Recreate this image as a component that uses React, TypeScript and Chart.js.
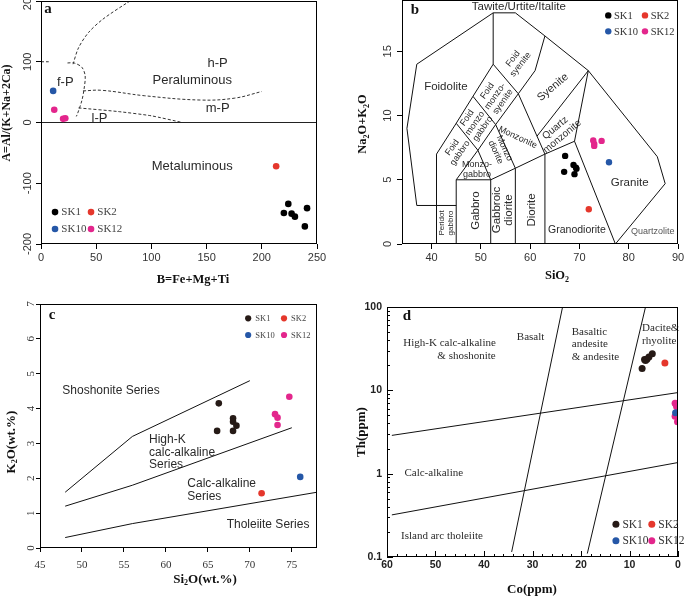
import React, { useEffect, useRef } from 'react';
import { Chart, registerables } from 'chart.js';
Chart.register(...registerables);

const SANS = '"Liberation Sans", Arial, sans-serif';
const SERIF = '"Liberation Serif", "Times New Roman", serif';

const RED = '#e5372c';
const BLUE = '#2557a7';
const MAG = '#e3268c';
const BLK = '#000000';
const DARK = '#261a16';

// ---------------- Panel a data ----------------
const aTicksX = [0, 50, 100, 150, 200, 250];
const aTicksY = [-200, -100, 0, 100, 200];
const aSK1x = [224, 220, 227, 230, 241, 239];
const aSK1y = [-134, -149, -150, -155, -141, -171];
const aSK2x = [213];
const aSK2y = [-72];
const aSK10x = [11];
const aSK10y = [52];
const aSK12x = [12, 20, 22];
const aSK12y = [21, 6, 7];
const aZeroX = [0, 250];
const aZeroY = [0, 0];
const aFPx = [0, 7];
const aFPy = [100, 100];
const aFPbX = [24, 30, 37, 40, 39, 37, 33, 32];
const aFPbY = [98, 98, 91, 77, 55, 36, 14, 10];
const aHPbX = [29, 34, 43, 56, 78, 90];
const aHPbY = [96, 123, 148, 170, 197, 210];
const aMPbX = [38, 55, 94, 144, 175, 200];
const aMPbY = [52, 53, 44, 37, 40, 51];
const aLPbX = [34, 70, 100, 128];
const aLPbY = [24, 18, 11, 0];

// ---------------- Panel b data ----------------
const bTicksX = [40, 50, 60, 70, 80, 90];
const bTicksY = [0, 5, 10, 15];
const bSK1x = [67.1, 68.8, 69.3, 69.4, 66.9, 69.0];
const bSK1y = [6.86, 6.16, 5.95, 5.85, 5.62, 5.44];
const bSK2x = [71.9];
const bSK2y = [2.71];
const bSK10x = [76.0];
const bSK10y = [6.37];
const bSK12x = [72.8, 73.0, 73.0, 74.5];
const bSK12y = [8.06, 7.8, 7.64, 8.03];
const bL1x = [41, 37, 35, 37, 52.5, 57, 63, 71.8, 85.8, 87.4, 77.3];
const bL1y = [3, 3, 9, 14, 18, 18, 16.2, 13.5, 6.8, 4.7, 0];
const bL2x = [41, 41, 45, 48.4, 52.5, 52.5];
const bL2y = [0, 7, 9.4, 11.5, 14, 18];
const bL3x = [41, 45];
const bL3y = [3, 3];
const bL4x = [45, 45, 49.4, 45];
const bL4y = [0, 5, 7.3, 9.4];
const bL5x = [45, 52, 49.4, 53, 48.4];
const bL5y = [5, 5, 7.3, 9.3, 11.5];
const bL6x = [52, 52, 57, 63, 69, 71.8];
const bL6y = [0, 5, 5.9, 7, 8, 13.5];
const bL7x = [57, 57, 53, 57.6, 52.5];
const bL7y = [0, 5.9, 9.3, 11.7, 14];
const bL8x = [63, 63, 57.6, 61, 63];
const bL8y = [0, 7, 11.7, 13.5, 16.2];
const bL9x = [69, 77.3];
const bL9y = [8, 0];
const bL10x = [61.4, 71.8];
const bL10y = [8.4, 13.5];

// ---------------- Panel c data ----------------
const cTicksX = [45, 50, 55, 60, 65, 70, 75];
const cTicksY = [0, 1, 2, 3, 4, 5, 6, 7];
const cSK1x = [66.3, 68.0, 68.0, 68.4, 68.0, 66.1];
const cSK1y = [4.15, 3.72, 3.62, 3.51, 3.36, 3.36];
const cSK2x = [71.4];
const cSK2y = [1.57];
const cSK10x = [76.0];
const cSK10y = [2.04];
const cSK12x = [74.7, 73.0, 73.3, 73.3];
const cSK12y = [4.34, 3.84, 3.74, 3.53];
const cShoX = [48, 56, 70];
const cShoY = [1.6, 3.2, 4.8];
const cHKx = [48, 56, 75];
const cHKy = [1.2, 1.8, 3.45];
const cCAx = [48, 56, 78];
const cCAy = [0.3, 0.7, 1.6];

// ---------------- Panel d data ----------------
const dTicksX = [60, 50, 40, 30, 20, 10, 0];
const dTicksY = [0.1, 1, 10, 100];
const dTickLabelsY = ['0.1', '1', '10', '100'];
const dSK1x = [7.4, 6.9, 6.4, 6.0, 5.3, 6.7];
const dSK1y = [18.3, 23.4, 23.6, 25.1, 27.5, 22.8];
const dSK2x = [2.7];
const dSK2y = [21.3];
const dSK10x = [0.5];
const dSK10y = [5.4];
const dSK12x = [0.6, 0.3, 0.6, 0.1];
const dSK12y = [7.0, 6.4, 4.9, 4.2];
const dUpX = [59, 0];
const dUpY = [2.88, 9.4];
const dLoX = [59, 0];
const dLoY = [0.32, 1.36];
const dS1x = [34.3, 23.8];
const dS1y = [0.115, 100];
const dS2x = [18.7, 6.7];
const dS2y = [0.11, 100];

const zip = (xs: number[], ys: number[]) => xs.map((x, i) => ({ x, y: ys[i] }));

function pts(xs: number[], ys: number[], color: string, r: number) {
  return {
    type: 'scatter', data: zip(xs, ys), backgroundColor: color, borderColor: color,
    borderWidth: 0, pointRadius: r, pointHoverRadius: r, order: 0,
  };
}
function line(xs: number[], ys: number[], opts: any = {}) {
  return {
    type: 'line', data: zip(xs, ys), borderColor: '#111', borderWidth: 1, pointRadius: 0,
    pointHoverRadius: 0, fill: false, tension: 0, order: 1, ...opts,
  };
}

type Seg = { t: string; sub?: boolean };

function drawRich(ctx: any, segs: Seg[], x: number, y: number, size: number, rot: number) {
  ctx.save();
  ctx.translate(x, y);
  if (rot) ctx.rotate((rot * Math.PI) / 180);
  const fMain = `bold ${size}px ${SERIF}`;
  const fSub = `bold ${Math.round(size * 0.62)}px ${SERIF}`;
  let w = 0;
  for (const s of segs) {
    ctx.font = s.sub ? fSub : fMain;
    w += ctx.measureText(s.t).width;
  }
  let cx = -w / 2;
  ctx.textAlign = 'left';
  ctx.textBaseline = 'alphabetic';
  ctx.fillStyle = '#111';
  for (const s of segs) {
    ctx.font = s.sub ? fSub : fMain;
    ctx.fillText(s.t, cx, s.sub ? size * 0.55 : size * 0.35);
    cx += ctx.measureText(s.t).width;
  }
  ctx.restore();
}

function drawText(ctx: any, it: any, px: number, py: number) {
  ctx.save();
  ctx.translate(px, py);
  if (it.rot) ctx.rotate((it.rot * Math.PI) / 180);
  ctx.font = it.font;
  ctx.fillStyle = it.color || '#2a2a2a';
  ctx.textAlign = it.align || 'center';
  ctx.textBaseline = 'middle';
  const lines = Array.isArray(it.t) ? it.t : [it.t];
  const lh = it.lh || 11;
  lines.forEach((ln: string, i: number) => ctx.fillText(ln, 0, (i - (lines.length - 1) / 2) * lh));
  ctx.restore();
}

function decoPlugin(s: any) {
  return {
    id: 'deco',
    beforeDatasetsDraw(chart: any) {
      const ctx = chart.ctx;
      const xs = chart.scales.x;
      const ys = chart.scales.y;
      for (const it of s.texts) drawText(ctx, it, xs.getPixelForValue(it.x), ys.getPixelForValue(it.y));
    },
    afterDraw(chart: any) {
      const ctx = chart.ctx;
      const xs = chart.scales.x;
      const ys = chart.scales.y;
      const { left, top, right, bottom } = chart.chartArea;
      ctx.save();
      ctx.strokeStyle = '#000';
      ctx.lineWidth = 1;
      ctx.strokeRect(Math.floor(left) + 0.5, Math.floor(top) + 0.5, Math.round(right - left) - 1, Math.round(bottom - top) - 1);
      // inward ticks (panel d)
      if (s.inTicks) {
        ctx.beginPath();
        for (const v of s.inTicks.xMajor) {
          const p = Math.round(xs.getPixelForValue(v)) + 0.5;
          ctx.moveTo(p, bottom); ctx.lineTo(p, bottom - 6);
        }
        for (const v of s.inTicks.xMinor) {
          const p = Math.round(xs.getPixelForValue(v)) + 0.5;
          ctx.moveTo(p, bottom); ctx.lineTo(p, bottom - 3);
        }
        for (const v of s.inTicks.yMajor) {
          const p = Math.round(ys.getPixelForValue(v)) + 0.5;
          ctx.moveTo(left, p); ctx.lineTo(left + 6, p);
        }
        for (const v of s.inTicks.yMinor) {
          const p = Math.round(ys.getPixelForValue(v)) + 0.5;
          ctx.moveTo(left, p); ctx.lineTo(left + 3, p);
        }
        ctx.stroke();
      }
      // tick labels
      ctx.font = s.tickFont;
      ctx.fillStyle = s.tickColor;
      ctx.textBaseline = 'middle';
      ctx.textAlign = 'center';
      s.x.ticks.forEach((v: number, i: number) => {
        const lab = s.x.labels ? s.x.labels[i] : String(v);
        ctx.fillText(lab, xs.getPixelForValue(v), s.xLabelY - s.cy);
      });
      s.y.ticks.forEach((v: number, i: number) => {
        const lab = s.y.labels ? s.y.labels[i] : String(v);
        const py = ys.getPixelForValue(v);
        if (s.yLabelRot) {
          ctx.save();
          ctx.translate(s.yLabelX - s.cx, py);
          ctx.rotate(-Math.PI / 2);
          ctx.textAlign = 'center';
          ctx.fillText(lab, 0, 0);
          ctx.restore();
        } else {
          ctx.textAlign = 'right';
          ctx.fillText(lab, s.yLabelX - s.cx, py);
        }
      });
      // titles
      drawRich(ctx, s.xTitle.segs, s.xTitle.x - s.cx, s.xTitle.y - s.cy, s.xTitle.size, 0);
      drawRich(ctx, s.yTitle.segs, s.yTitle.x - s.cx, s.yTitle.y - s.cy, s.yTitle.size, -90);
      // panel letter
      ctx.font = `bold 15px ${SERIF}`;
      ctx.fillStyle = '#111';
      ctx.textAlign = 'center';
      ctx.textBaseline = 'middle';
      ctx.fillText(s.letter.t, s.letter.x - s.cx, s.letter.y - s.cy);
      // legend
      const lg = s.legend;
      for (const it of lg.items) {
        const px = xs.getPixelForValue(it.x);
        const py = ys.getPixelForValue(it.y);
        ctx.beginPath();
        ctx.fillStyle = it.color;
        ctx.arc(px, py, lg.r, 0, Math.PI * 2);
        ctx.fill();
        ctx.font = lg.font;
        ctx.fillStyle = lg.color;
        ctx.textAlign = 'left';
        ctx.textBaseline = 'middle';
        ctx.fillText(it.label, px + lg.r + lg.gap, py + 0.5);
      }
      ctx.restore();
    },
  };
}

function buildChart(canvas: HTMLCanvasElement, s: any) {
  const [l, t, r, b] = s.area;
  const out = !s.inTicks;
  const setTicks = (vals: number[]) => (sc: any) => {
    sc.ticks = vals.map((v) => ({ value: v }));
  };
  const axis = (ax: any, isX: boolean) => ({
    type: ax.type,
    min: ax.min,
    max: ax.max,
    reverse: !!ax.reverse,
    bounds: 'data',
    afterFit: (sc: any) => {
      if (isX) sc.height = s.cy + s.ch - b;
      else sc.width = l - s.cx;
    },
    afterBuildTicks: setTicks(ax.ticks),
    ticks: { display: false },
    grid: { drawOnChartArea: false, drawTicks: out, tickLength: s.tickLen || 5, color: '#000', lineWidth: 1 },
    border: { display: false },
  });
  return new Chart(canvas, {
    type: 'scatter',
    data: { datasets: s.datasets },
    options: {
      animation: false,
      responsive: false,
      maintainAspectRatio: false,
      devicePixelRatio: 1,
      events: [],
      layout: { autoPadding: false, padding: { left: 0, top: t - s.cy, right: s.cx + s.cw - r, bottom: 0 } },
      plugins: { legend: { display: false }, tooltip: { enabled: false } },
      scales: { x: axis(s.x, true), y: axis(s.y, false) },
    },
    plugins: [decoPlugin(s)],
  } as any);
}

const legendItems = (x1: number, x2: number, y1: number, y2: number, c1: string) => [
  { label: 'SK1', color: c1, x: x1, y: y1 },
  { label: 'SK2', color: RED, x: x2, y: y1 },
  { label: 'SK10', color: BLUE, x: x1, y: y2 },
  { label: 'SK12', color: MAG, x: x2, y: y2 },
];

const dash = [3, 2];
const f13 = `13px ${SANS}`;
const f11 = `11px ${SANS}`;
const f9 = `9px ${SANS}`;

const specA = {
  id: 'a', cx: 0, cy: 0, cw: 340, ch: 290, area: [41, 1, 317, 244],
  x: { type: 'linear', min: 0, max: 250, ticks: aTicksX },
  y: { type: 'linear', min: -200, max: 200, ticks: aTicksY },
  tickFont: `11px ${SANS}`, tickColor: '#333', xLabelY: 258, yLabelX: 28, yLabelRot: true, tickLen: 5,
  datasets: [
    line(aZeroX, aZeroY, { borderColor: '#222' }),
    line(aFPx, aFPy, { borderDash: dash, borderColor: '#333' }),
    line(aFPbX, aFPbY, { borderDash: dash, borderColor: '#333', tension: 0.3 }),
    line(aHPbX, aHPbY, { borderDash: dash, borderColor: '#333', tension: 0.3 }),
    line(aMPbX, aMPbY, { borderDash: dash, borderColor: '#333', tension: 0.4 }),
    line(aLPbX, aLPbY, { borderDash: dash, borderColor: '#333', tension: 0.2 }),
    pts(aSK1x, aSK1y, BLK, 3.3),
    pts(aSK2x, aSK2y, RED, 3.3),
    pts(aSK10x, aSK10y, BLUE, 3.3),
    pts(aSK12x, aSK12y, MAG, 3.3),
  ],
  texts: [
    { t: 'h-P', x: 160, y: 97, font: f13 },
    { t: 'Peraluminous', x: 137, y: 69, font: f13 },
    { t: 'm-P', x: 160, y: 23, font: f13 },
    { t: 'f-P', x: 22, y: 66, font: f13 },
    { t: 'l-P', x: 53, y: 6, font: f13 },
    { t: 'Metaluminous', x: 137, y: -72, font: f13 },
  ],
  legend: { items: legendItems(12.7, 45.3, -147.5, -175.4, BLK), font: `11px ${SERIF}`, color: '#444', r: 3.3, gap: 3 },
  letter: { t: 'a', x: 48, y: 9 },
  xTitle: { segs: [{ t: 'B=Fe+Mg+Ti' }], x: 193, y: 279, size: 12.5 },
  yTitle: { segs: [{ t: 'A=Al/(K+Na+2Ca)' }], x: 6, y: 113, size: 12 },
};

const specB = {
  id: 'b', cx: 340, cy: 0, cw: 345, ch: 290, area: [402, 0, 678, 244],
  x: { type: 'linear', min: 34, max: 90, ticks: bTicksX },
  y: { type: 'linear', min: 0, max: 19, ticks: bTicksY },
  tickFont: `11px ${SANS}`, tickColor: '#333', xLabelY: 258, yLabelX: 388, yLabelRot: true, tickLen: 5,
  datasets: [
    line(bL1x, bL1y), line(bL2x, bL2y), line(bL3x, bL3y), line(bL4x, bL4y), line(bL5x, bL5y),
    line(bL6x, bL6y), line(bL7x, bL7y), line(bL8x, bL8y), line(bL9x, bL9y), line(bL10x, bL10y),
    pts(bSK1x, bSK1y, BLK, 3.2),
    pts(bSK2x, bSK2y, RED, 3.2),
    pts(bSK10x, bSK10y, BLUE, 3.2),
    pts(bSK12x, bSK12y, MAG, 3.2),
  ],
  texts: [
    { t: 'Tawite/Urtite/Italite', x: 57.7, y: 18.45, font: `11.5px ${SANS}` },
    { t: 'Foidolite', x: 42.9, y: 12.2, font: `11.5px ${SANS}` },
    { t: 'Syenite', x: 64.6, y: 12.2, font: `11px ${SANS}`, rot: -40 },
    { t: 'Granite', x: 80.2, y: 4.76, font: `11.5px ${SANS}` },
    { t: 'Granodiorite', x: 69.5, y: 1.1, font: `10.5px ${SANS}` },
    { t: 'Quartzolite', x: 84.9, y: 0.94, font: `9px ${SANS}`, color: '#555' },
    { t: 'Gabbro', x: 49, y: 2.6, font: `11.5px ${SANS}`, rot: -90 },
    { t: ['Gabbroic', 'diorite'], x: 54.5, y: 2.65, font: `11.5px ${SANS}`, rot: -90, lh: 12 },
    { t: 'Diorite', x: 60.4, y: 2.65, font: `11.5px ${SANS}`, rot: -90 },
    { t: ['Peridot', 'gabbro'], x: 42.9, y: 1.64, font: `8px ${SANS}`, rot: -90, lh: 9 },
    { t: 'Monzonite', x: 57.5, y: 8.3, font: f9, rot: 25 },
    { t: ['Quartz', 'monzonite'], x: 65.8, y: 8.7, font: `10px ${SANS}`, rot: -40, lh: 11 },
    { t: ['Foid', 'syenite'], x: 57.3, y: 14.2, font: f9, rot: -52, lh: 9.5 },
    { t: ['Foid', 'monzo-', 'syenite'], x: 52.9, y: 11.5, font: f9, rot: -55, lh: 9.5 },
    { t: ['Foid', 'monzo', 'gabbro'], x: 48.8, y: 9.4, font: f9, rot: -55, lh: 9.5 },
    { t: ['Foid', 'gabbro'], x: 45.0, y: 7.3, font: f9, rot: -55, lh: 9.5 },
    { t: ['Monzo', 'diorite'], x: 53.9, y: 7.3, font: f9, rot: 65, lh: 9.5 },
    { t: ['Monzo-', 'gabbro'], x: 49.2, y: 5.8, font: f9, lh: 9.5 },
  ],
  legend: { items: legendItems(75.85, 83.3, 17.8, 16.56, BLK), font: `10.5px ${SERIF}`, color: '#333', r: 3.2, gap: 2.5 },
  letter: { t: 'b', x: 415, y: 10 },
  xTitle: { segs: [{ t: 'SiO' }, { t: '2', sub: true }], x: 557, y: 275, size: 12.5 },
  yTitle: { segs: [{ t: 'Na' }, { t: '2', sub: true }, { t: 'O+K' }, { t: '2', sub: true }, { t: 'O' }], x: 362, y: 124, size: 12.5 },
};

const specC = {
  id: 'c', cx: 0, cy: 290, cw: 340, ch: 306, area: [40, 304, 317, 548],
  x: { type: 'linear', min: 45, max: 78, ticks: cTicksX },
  y: { type: 'linear', min: 0, max: 7, ticks: cTicksY },
  tickFont: `11px ${SERIF}`, tickColor: '#333', xLabelY: 565, yLabelX: 31.5, yLabelRot: true, tickLen: 4,
  datasets: [
    line(cShoX, cShoY), line(cHKx, cHKy), line(cCAx, cCAy),
    pts(cSK1x, cSK1y, DARK, 3.3),
    pts(cSK2x, cSK2y, RED, 3.3),
    pts(cSK10x, cSK10y, BLUE, 3.3),
    pts(cSK12x, cSK12y, MAG, 3.3),
  ],
  texts: [
    { t: 'Shoshonite Series', x: 53.46, y: 4.5, font: `12px ${SANS}` },
    { t: 'High-K', x: 57.99, y: 3.1, font: `12px ${SANS}`, align: 'left' },
    { t: 'calc-alkaline', x: 57.99, y: 2.73, font: `12px ${SANS}`, align: 'left' },
    { t: 'Series', x: 57.99, y: 2.38, font: `12px ${SANS}`, align: 'left' },
    { t: 'Calc-alkaline', x: 62.55, y: 1.84, font: `12px ${SANS}`, align: 'left' },
    { t: 'Series', x: 62.55, y: 1.47, font: `12px ${SANS}`, align: 'left' },
    { t: 'Tholeiite Series', x: 67.24, y: 0.66, font: `12px ${SANS}`, align: 'left' },
  ],
  legend: { items: legendItems(69.8, 74.07, 6.59, 6.11, DARK), font: `8.5px ${SERIF}`, color: '#444', r: 3.1, gap: 4 },
  letter: { t: 'c', x: 52, y: 315 },
  xTitle: { segs: [{ t: 'Si' }, { t: '2', sub: true }, { t: 'O(wt.%)' }], x: 205, y: 578, size: 13 },
  yTitle: { segs: [{ t: 'K' }, { t: '2', sub: true }, { t: 'O(wt.%)' }], x: 10, y: 442, size: 13 },
};

const dMinorX: number[] = [];
for (let v = 0; v <= 60; v += 2) if (v % 10 !== 0) dMinorX.push(v);
const dMinorY: number[] = [];
for (const dec of [0.1, 1, 10]) for (let k = 2; k <= 9; k++) dMinorY.push(dec * k);

const fd = `11px ${SERIF}`;
const specD = {
  id: 'd', cx: 340, cy: 290, cw: 345, ch: 306, area: [387, 307, 678, 557],
  x: { type: 'linear', min: 0, max: 60, reverse: true, ticks: dTicksX },
  y: { type: 'logarithmic', min: 0.1, max: 100, ticks: dTicksY, labels: dTickLabelsY },
  tickFont: `bold 10.5px ${SANS}`, tickColor: '#222', xLabelY: 565, yLabelX: 382, yLabelRot: false,
  inTicks: { xMajor: dTicksX, xMinor: dMinorX, yMajor: dTicksY, yMinor: dMinorY },
  datasets: [
    line(dUpX, dUpY), line(dLoX, dLoY), line(dS1x, dS1y), line(dS2x, dS2y),
    pts(dSK1x, dSK1y, DARK, 3.5),
    pts(dSK2x, dSK2y, RED, 3.5),
    pts(dSK10x, dSK10y, BLUE, 3.5),
    pts(dSK12x, dSK12y, MAG, 3.5),
  ],
  texts: [
    { t: 'High-K calc-alkaline', x: 47.1, y: 36.4, font: fd },
    { t: '& shoshonite', x: 43.6, y: 25.6, font: fd },
    { t: 'Basalt', x: 30.4, y: 43.6, font: fd },
    { t: 'Basaltic', x: 21.9, y: 50.1, font: fd, align: 'left' },
    { t: 'andesite', x: 21.9, y: 35.4, font: fd, align: 'left' },
    { t: '& andesite', x: 21.9, y: 25.1, font: fd, align: 'left' },
    { t: 'Dacite&', x: 7.4, y: 55.1, font: fd, align: 'left' },
    { t: 'rhyolite', x: 7.4, y: 39.1, font: fd, align: 'left' },
    { t: 'Calc-alkaline', x: 56.4, y: 1.02, font: fd, align: 'left' },
    { t: 'Island arc tholeiite', x: 57.1, y: 0.177, font: fd, align: 'left' },
  ],
  legend: { items: legendItems(12.8, 5.4, 0.2466, 0.1569, DARK), font: `11.5px ${SERIF}`, color: '#333', r: 3.5, gap: 3 },
  letter: { t: 'd', x: 407, y: 316 },
  xTitle: { segs: [{ t: 'Co(ppm)' }], x: 532, y: 588, size: 13 },
  yTitle: { segs: [{ t: 'Th(ppm)' }], x: 360, y: 432, size: 13 },
};

function Panel({ spec }: { spec: any }) {
  const ref = useRef<HTMLCanvasElement | null>(null);
  useEffect(() => {
    if (!ref.current) return;
    const chart = buildChart(ref.current, spec);
    return () => chart.destroy();
  }, [spec]);
  return (
    <canvas
      ref={ref}
      width={spec.cw}
      height={spec.ch}
      style={{ position: 'absolute', left: spec.cx, top: spec.cy, width: spec.cw, height: spec.ch }}
    />
  );
}

export default function App() {
  return (
    <div style={{ position: 'fixed', left: 0, top: 0, width: 685, height: 596, background: '#fff', overflow: 'hidden' }}>
      <Panel spec={specA} />
      <Panel spec={specB} />
      <Panel spec={specC} />
      <Panel spec={specD} />
    </div>
  );
}
